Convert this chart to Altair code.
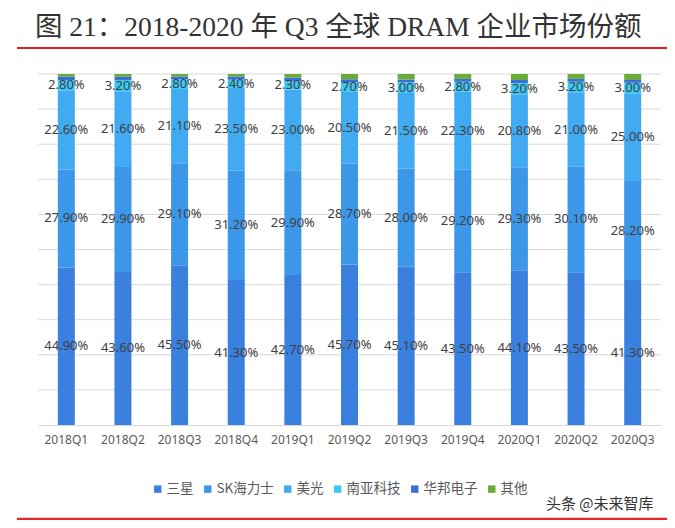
import altair as alt
import pandas as pd

quarters = ["2018Q1", "2018Q2", "2018Q3", "2018Q4", "2019Q1", "2019Q2",
            "2019Q3", "2019Q4", "2020Q1", "2020Q2", "2020Q3"]
series = ["三星", "SK海力士", "美光", "南亚科技", "华邦电子", "其他"]
samsung = [44.9, 43.6, 45.5, 41.3, 42.7, 45.7, 45.1, 43.5, 44.1, 43.5, 41.3]
skhynix = [27.9, 29.9, 29.1, 31.2, 29.9, 28.7, 28.0, 29.2, 29.3, 30.1, 28.2]
micron = [22.6, 21.6, 21.1, 23.5, 23.0, 20.5, 21.5, 22.3, 20.8, 21.0, 25.0]
nanya = [2.8, 3.2, 2.8, 2.4, 2.3, 2.7, 3.0, 2.8, 3.2, 3.2, 3.0]
winbond = [1.0, 0.9, 0.8, 0.9, 1.0, 0.9, 0.8, 0.8, 0.9, 0.8, 0.8]
others = [0.8, 0.8, 0.7, 0.7, 1.1, 1.5, 1.6, 1.4, 1.7, 1.4, 1.7]
labeled = ["三星", "SK海力士", "美光", "南亚科技"]
grid_values = [0.1, 0.2, 0.3, 0.4, 0.5, 0.6, 0.7, 0.8, 0.9, 1.0]
colors = ["#3a80df", "#3d97e9", "#41aaf0", "#3cc8f5", "#386fd8", "#6aab3c"]

title_text = "图 21：2018-2020 年 Q3 全球 DRAM 企业市场份额"
source_text = "头条 @未来智库"

rows = []
for i, s in enumerate(series):
    vals = [samsung, skhynix, micron, nanya, winbond, others][i]
    for q, v in zip(quarters, vals):
        rows.append({"quarter": q, "series": s, "idx": i, "value": v})
df = pd.DataFrame(rows)

W, H = 623, 351

base = alt.Chart(df).transform_stack(
    stack="value", groupby=["quarter"], sort=[{"field": "idx", "order": "ascending"}],
    as_=["v0", "v1"], offset="normalize"
).transform_calculate(
    mid="(datum.v0 + datum.v1) / 2",
    label="format(datum.value, '.2f') + '%'"
)

xscale = alt.Scale(paddingInner=0.7, paddingOuter=0.35)
yscale = alt.Scale(domain=[0, 1])
xaxis = alt.Axis(labelAngle=0, labelFont="Noto Sans", labelFontSize=12,
                 labelColor="#595959", labelPadding=9, ticks=False,
                 domainColor="#d9d9d9", domainWidth=1.2, grid=False)

grid = alt.Chart(pd.DataFrame({"g": grid_values})).mark_rule(
    color="#d9d9d9", strokeWidth=1
).encode(
    y=alt.Y("g:Q", scale=yscale, axis=None),
    x=alt.value(0), x2=alt.value(W),
)

bars = base.mark_bar().encode(
    x=alt.X("quarter:N", sort=quarters, title=None, scale=xscale, axis=xaxis),
    y=alt.Y("v0:Q", scale=yscale, title=None, axis=None),
    y2="v1:Q",
    color=alt.Color("series:N", sort=series,
                    scale=alt.Scale(domain=series, range=colors),
                    legend=alt.Legend(title=None, orient="none", direction="horizontal",
                                      legendX=113, legendY=408, symbolType="square",
                                      symbolSize=55, symbolStrokeWidth=0,
                                      labelFont="Noto Sans CJK SC", labelFontSize=13.5,
                                      labelColor="#595959", columnPadding=7,
                                      labelOffset=2)),
)

labels = base.transform_filter(
    alt.FieldOneOfPredicate(field="series", oneOf=labeled)
).mark_text(font="Noto Sans", fontSize=13, color="#404040").encode(
    x=alt.X("quarter:N", sort=quarters, title=None, scale=xscale, axis=xaxis),
    y=alt.Y("mid:Q", scale=yscale, axis=None),
    text="label:N",
)

title = alt.Chart(pd.DataFrame({"t": [title_text]})).mark_text(
    font="Liberation Serif, Noto Sans CJK SC", fontSize=27.5, color="#333333",
    align="left", baseline="middle"
).encode(x=alt.value(-3), y=alt.value(-46), text="t:N")

topline = alt.Chart(pd.DataFrame({"a": [0]})).mark_rule(
    color="#e0201f", strokeWidth=2
).encode(x=alt.value(-21), x2=alt.value(W + 20), y=alt.value(-26))

botline = alt.Chart(pd.DataFrame({"a": [0]})).mark_rule(
    color="#e8262a", strokeWidth=2.5
).encode(x=alt.value(-21), x2=alt.value(W + 20), y=alt.value(445))

source = alt.Chart(pd.DataFrame({"t": [source_text]})).mark_text(
    font="Noto Sans CJK SC", fontSize=15, color="#333333", align="left", baseline="middle"
).encode(x=alt.value(508), y=alt.value(430), text="t:N")

chart = alt.layer(grid, bars, labels, title, topline, botline, source).properties(
    width=W, height=H,
    autosize=alt.AutoSizeParams(type="none"),
    padding={"left": 30, "top": 66, "right": 6, "bottom": 95},
    background="white",
).configure_view(stroke=None)

chart.save("out.html", embed_options={"renderer": "svg", "actions": False})
